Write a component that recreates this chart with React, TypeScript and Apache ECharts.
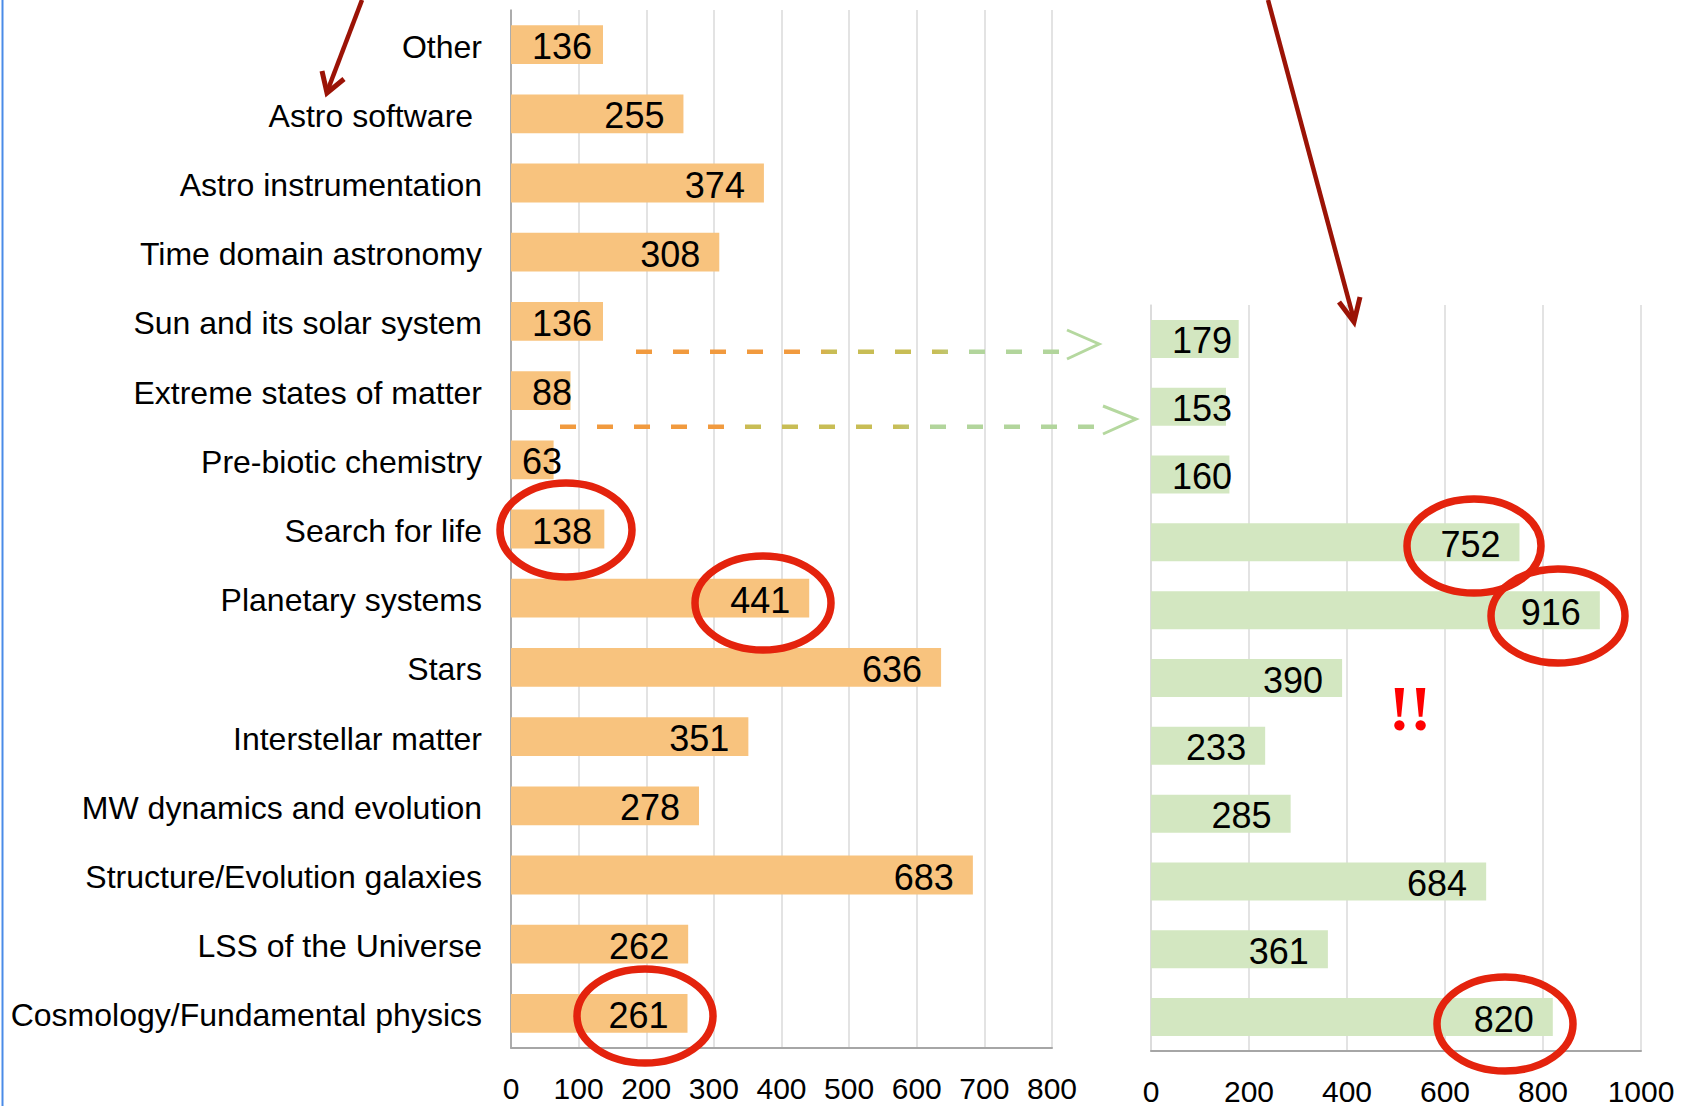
import React, { useEffect, useRef } from "react";
import * as echarts from "echarts";

// ---- data ----
const categories = [
  "Other",
  "Astro software ",
  "Astro instrumentation",
  "Time domain astronomy",
  "Sun and its solar system",
  "Extreme states of matter",
  "Pre-biotic chemistry",
  "Search for life",
  "Planetary systems",
  "Stars",
  "Interstellar matter",
  "MW dynamics and evolution",
  "Structure/Evolution galaxies",
  "LSS of the Universe",
  "Cosmology/Fundamental physics",
];
const leftValues = [136, 255, 374, 308, 136, 88, 63, 138, 441, 636, 351, 278, 683, 262, 261];
const rightCategories = categories.slice(4);
const rightValues = [179, 153, 160, 752, 916, 390, 233, 285, 684, 361, 820];
const leftAxisMax = 800;
const leftAxisStep = 100;
const rightAxisMax = 1000;
const rightAxisStep = 200;

const FONT = '"Liberation Sans", Arial, sans-serif';
const ORANGE = "#F8C37E";
const GREEN = "#D3E7C1";
const ARROW = "#9B1306";
const RING = "#E4230D";

const G1 = { left: 511, top: 10, width: 541, height: 1038 };
const G2 = { left: 1151, top: 305, width: 490, height: 748 };

function itemLabel(v: number, max: number, widthPx: number) {
  const len = (v / max) * widthPx;
  if (len < 100) {
    return { position: "insideLeft", distance: len < 50 ? 11 : 21 };
  }
  return { position: "insideRight", distance: 19 };
}

function buildData(values: number[], max: number, widthPx: number) {
  return values.map((v) => ({ value: v, label: itemLabel(v, max, widthPx) }));
}

function ellipse(cx: number, cy: number, rx: number, ry: number) {
  return {
    type: "ellipse",
    z: 100,
    shape: { cx, cy, rx, ry },
    style: { fill: "none", stroke: RING, lineWidth: 7.5 },
  };
}

function dashed(x1: number, x2: number, y: number, stops: [number, string][]) {
  return {
    type: "line",
    z: 100,
    shape: { x1, y1: y, x2, y2: y },
    style: {
      stroke: {
        type: "linear",
        x: x1,
        y: 0,
        x2: x2,
        y2: 0,
        global: true,
        colorStops: stops.map(([offset, color]) => ({ offset, color })),
      },
      lineWidth: 4.5,
      lineDash: [16, 21],
    },
  };
}

export default function App() {
  const ref = useRef<HTMLDivElement>(null);
  useEffect(() => {
    if (!ref.current) return;
    const chart = echarts.init(ref.current, undefined, { renderer: "svg" });
    const axisLabelCommon = {
      color: "#000",
      fontSize: 30,
      fontFamily: FONT,
      lineHeight: 30,
      margin: 25,
      formatter: (v: number) => String(v),
    };
    const valueLabel = { show: true, color: "#000", fontSize: 36, fontFamily: FONT, offset: [0, 2] };
    const option: any = {
      animation: false,
      backgroundColor: "#fff",
      grid: [
        { ...G1, containLabel: false },
        { ...G2, containLabel: false },
      ],
      xAxis: [
        {
          gridIndex: 0,
          type: "value",
          min: 0,
          max: leftAxisMax,
          interval: leftAxisStep,
          axisLine: { show: true, onZero: false, lineStyle: { color: "#a6a6a6", width: 2 } },
          axisTick: { show: false },
          splitLine: { show: true, lineStyle: { color: "#dadada", width: 1.5 } },
          axisLabel: axisLabelCommon,
        },
        {
          gridIndex: 1,
          type: "value",
          min: 0,
          max: rightAxisMax,
          interval: rightAxisStep,
          axisLine: { show: true, onZero: false, lineStyle: { color: "#a6a6a6", width: 2 } },
          axisTick: { show: false },
          splitLine: { show: true, lineStyle: { color: "#dadada", width: 1.5 } },
          axisLabel: axisLabelCommon,
        },
      ],
      yAxis: [
        {
          gridIndex: 0,
          type: "category",
          inverse: true,
          data: categories,
          axisLine: { show: true, lineStyle: { color: "#9a9a9a", width: 1.5 } },
          axisTick: { show: false },
          axisLabel: {
            color: "#000",
            fontSize: 32,
            fontFamily: FONT,
            margin: 29,
            formatter: (v: string) => "{c|" + v + "}",
            rich: {
              c: { color: "#000", fontSize: 32, fontFamily: FONT, padding: [4, 0, 0, 0] },
            },
          },
        },
        {
          gridIndex: 1,
          type: "category",
          inverse: true,
          data: rightCategories,
          axisLine: { show: true, lineStyle: { color: "#dadada", width: 1.5 } },
          axisTick: { show: false },
          axisLabel: { show: false },
        },
      ],
      series: [
        {
          type: "bar",
          xAxisIndex: 0,
          yAxisIndex: 0,
          data: buildData(leftValues, leftAxisMax, G1.width),
          barCategoryGap: "44%",
          itemStyle: { color: ORANGE },
          label: valueLabel,
        },
        {
          type: "bar",
          xAxisIndex: 1,
          yAxisIndex: 1,
          data: buildData(rightValues, rightAxisMax, G2.width),
          barCategoryGap: "44%",
          itemStyle: { color: GREEN },
          label: valueLabel,
        },
      ],
      graphic: [
        { type: "rect", z: 100, shape: { x: 1.5, y: 0, width: 2, height: 1106 }, style: { fill: "#4A8BE8" } },
        // dark red arrows
        { type: "line", z: 100, shape: { x1: 362, y1: 0, x2: 327, y2: 92 }, style: { stroke: ARROW, lineWidth: 4.5 } },
        {
          type: "polyline",
          z: 100,
          shape: { points: [[322, 71], [327, 93], [344, 79]] },
          style: { stroke: ARROW, lineWidth: 5, fill: "none" },
        },
        { type: "line", z: 100, shape: { x1: 1268, y1: 0, x2: 1354, y2: 320 }, style: { stroke: ARROW, lineWidth: 4.5 } },
        {
          type: "polyline",
          z: 100,
          shape: { points: [[1339, 302], [1354, 322], [1360, 297]] },
          style: { stroke: ARROW, lineWidth: 5, fill: "none" },
        },
        // dashed connectors
        dashed(636, 1062, 351.7, [
          [0, "#F19A3E"],
          [0.4, "#F19A3E"],
          [0.46, "#C8BD55"],
          [0.7, "#C8BD55"],
          [0.78, "#B2D59C"],
          [1, "#B2D59C"],
        ]),
        {
          type: "polyline",
          z: 100,
          shape: { points: [[1067, 330], [1099, 344], [1067, 359]] },
          style: { stroke: "#B5D89F", lineWidth: 3, fill: "none" },
        },
        dashed(560, 1100, 426.7, [
          [0, "#F19A3E"],
          [0.3, "#F19A3E"],
          [0.35, "#C8BD55"],
          [0.62, "#C8BD55"],
          [0.69, "#B2D59C"],
          [1, "#B2D59C"],
        ]),
        {
          type: "polyline",
          z: 100,
          shape: { points: [[1103, 406], [1136, 419], [1103, 434]] },
          style: { stroke: "#B5D89F", lineWidth: 3, fill: "none" },
        },
        // red ellipses
        ellipse(566, 530, 66, 47),
        ellipse(763, 603, 68, 47),
        ellipse(645, 1016, 68, 47),
        ellipse(1474, 546, 67, 47),
        ellipse(1558, 616, 67, 47),
        ellipse(1505, 1024, 68, 47),
        {
          type: "text",
          z: 100,
          style: {
            text: "!!",
            x: 1410,
            y: 708,
            fill: "#FF0000",
            font: 'bold 64px "Liberation Serif", "DejaVu Serif", serif',
            textAlign: "center",
            textVerticalAlign: "middle",
          },
        },
      ],
    };
    chart.setOption(option);
    return () => chart.dispose();
  }, []);
  return (
    <div
      ref={ref}
      style={{ position: "fixed", left: 0, top: 0, width: 1681, height: 1106, background: "#fff" }}
    />
  );
}
